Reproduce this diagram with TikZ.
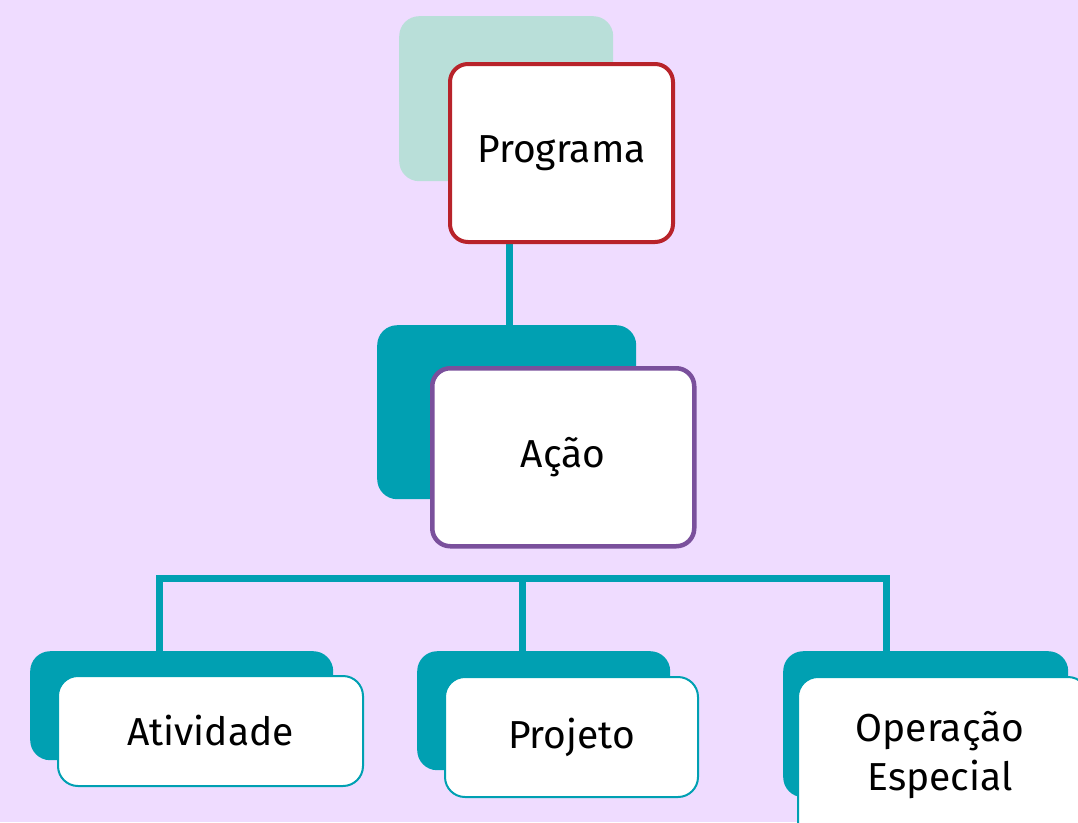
\documentclass[tikz,border=0pt]{standalone}
\usepackage{fontspec}
\setmainfont{Fira Sans}
\usetikzlibrary{positioning}
\definecolor{orgBg}{HTML}{EFDCFF}
\definecolor{orgTeal}{HTML}{00A0B2}
\definecolor{orgMint}{HTML}{B9DFD9}
\definecolor{orgRed}{HTML}{B8232A}
\definecolor{orgPurple}{HTML}{7A509C}
\tikzset{
  card/.style={
    draw, fill=white, rounded corners=18pt, anchor=north west,
    inner sep=0pt, align=center, font=\fontsize{39}{49}\selectfont
  },
  backcard/.style={fill=orgTeal, rounded corners=20pt, anchor=north west, inner sep=0pt},
  topcard/.style={card, draw=orgRed, line width=4pt},
  midcard/.style={card, draw=orgPurple, line width=4.5pt},
  leafcard/.style={card, draw=orgTeal, line width=2pt, rounded corners=20pt},
  branch/.style={orgTeal, line width=7pt}
}
\begin{document}
\begin{tikzpicture}[x=1pt, y=-1pt]
  \fill[orgBg] (0,0) rectangle (1078,822);
  \useasboundingbox (0,0) rectangle (1078,822);
  \clip (0,0) rectangle (1078,822);

  % background cards
  \node[backcard, fill=orgMint, minimum width=214pt, minimum height=165pt] (progback) at (399,16) {};
  \node[backcard, minimum width=259pt, minimum height=174pt] (acaoback) at (377,325) {};
  \node[backcard, minimum width=303pt, minimum height=109pt] (ativback) at (30,651) {};
  \node[backcard, minimum width=253pt, minimum height=119pt] (projback) at (417,651) {};
  \node[backcard, minimum width=285pt, minimum height=146pt] (opback) at (783,651) {};

  % connectors
  \coordinate (j1) at (159,578);
  \coordinate (j2) at (522,578);
  \coordinate (j3) at (886,578);
  \draw[branch] (509,240) coordinate (progfoot) -- (progfoot |- acaoback.north);
  \draw[branch, line cap=rect] (j1) -- (j3);
  \foreach \j/\b in {j1/ativback, j2/projback, j3/opback}{
    \draw[branch] (\j) -- (\j |- \b.north);
  }

  % front cards
  \node[topcard, minimum width=223pt, minimum height=178pt] (prog) at (448,62) {\raisebox{8pt}{Programa}};
  \node[midcard, minimum width=262pt, minimum height=178pt] (acao) at (430,366) {Ação};
  \node[leafcard, minimum width=305pt, minimum height=110pt] (ativ) at (57,675) {Atividade};
  \node[leafcard, minimum width=253pt, minimum height=120pt] (proj) at (444,676) {Projeto};
  \node[leafcard, minimum width=290pt, minimum height=170pt] (op) at (797,676) {};
  \node[font=\fontsize{39}{49}\selectfont, align=center] (optext) at (940,755) {Operação\\Especial};
\end{tikzpicture}
\end{document}
